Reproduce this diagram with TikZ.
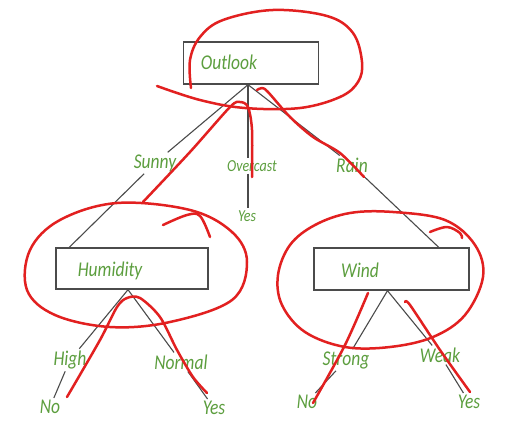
\documentclass[tikz,border=0pt]{standalone}
\usepackage{fontspec}
\setmainfont{Carlito}
\usepackage{xcolor}
\usepackage{graphicx}
\usepackage{tikz}
\usetikzlibrary{calc}
\definecolor{labelgreen}{RGB}{92,158,62}
\definecolor{edgegray}{RGB}{75,75,75}
\definecolor{penred}{RGB}{226,32,32}
\newcommand{\tallword}[1]{\scalebox{1}[1.2]{#1}}
\tikzset{
    attrbox/.style={draw=edgegray, line width=1.4pt, minimum width=135pt, minimum height=42pt, inner sep=0pt},
    attrtext/.style={text=labelgreen, font=\fontsize{17.5}{20}\selectfont\itshape, inner sep=1pt},
    branchlabel/.style={text=labelgreen, font=\fontsize{17.5}{20}\selectfont\itshape, inner sep=2pt},
    smalllabel/.style={text=labelgreen, font=\fontsize{14}{16}\selectfont\itshape, inner sep=2pt},
    edge/.style={draw=edgegray, line width=1.1pt},
    redpen/.style={draw=penred, line width=2.5pt, line cap=round, line join=round}
}

\begin{document}
\begin{tikzpicture}[x=1pt, y=-1pt]
    \useasboundingbox[fill=white] (0,0) rectangle (508,428);
    % Attribute boxes
    \node[attrbox] (outlook) at (251,63) {};
    \node[attrtext] (outlooktxt) at (229,62) {\tallword{Outlook}};
    \node[attrbox, minimum width=152pt, minimum height=41pt] (humidity) at (132,268.5) {};
    \node[attrtext] (humiditytxt) at (110,271) {\tallword{Humidity}};
    \node[attrbox, minimum width=155pt] (wind) at (391.5,269) {};
    \node[attrtext] (windtxt) at (360,270) {\tallword{Wind}};
    \coordinate (outlookapex) at ($(outlook.south)+(-3,0)$);
    \coordinate (humiditytop) at ($(humidity.north west)+(14,0)$);
    \coordinate (humidityapex) at ($(humidity.south)+(-4,0)$);
    \coordinate (windtop) at ($(wind.north east)+(-31,0)$);
    \coordinate (windapex) at ($(wind.south)+(-4,0)$);

    % Branch labels
    \node[branchlabel] (sunny) at (155,163) {\tallword{Sunny}};
    \node[smalllabel] (overcast) at (252,166) {\tallword{Overcast}};
    \node[smalllabel] (yesmid) at (247,216) {\tallword{Yes}};
    \node[branchlabel] (rain) at (352,165) {\tallword{Rain}};
    \node[branchlabel] (high) at (70,360) {\tallword{High}};
    \node[branchlabel] (normal) at (181,362) {\tallword{Normal}};
    \node[branchlabel] (nohum) at (50,407) {\tallword{No}};
    \node[branchlabel] (yeshum) at (214,408) {\tallword{Yes}};
    \node[branchlabel] (strong) at (346,360) {\tallword{Strong}};
    \node[branchlabel] (weak) at (440,355) {\tallword{Weak}};
    \node[branchlabel] (nowind) at (307,402) {\tallword{No}};
    \node[branchlabel] (yeswind) at (469,402) {\tallword{Yes}};

    % Branches
    \draw[edge] (outlookapex) -- (sunny) -- (humiditytop);
    \draw[edge] (outlookapex) -- (overcast.north -| outlookapex);
    \draw[edge] (overcast.south -| outlookapex) -- (yesmid.north -| outlookapex);
    \draw[edge] (outlookapex) -- (rain) -- (windtop);
    \draw[edge] (humidityapex) -- (high) -- (nohum);
    \draw[edge] (humidityapex) -- (normal) -- (yeshum);
    \draw[edge] (windapex) -- (strong) -- (nowind);
    \draw[edge] (windapex) -- (weak) -- (yeswind);

    % Red pen marks
    \draw[redpen] plot[smooth, tension=0.6] coordinates {(157,86) (200,100) (245,108) (300,108) (340,97) (358,82) (362,62) (353,33) (327,16) (273,10) (223,20) (200,37) (190,60) (191,88)};
    \draw[redpen] plot[smooth, tension=0.5] coordinates {(143,202) (190,152) (230,107) (240,102) (248,107) (252,130) (252,177)};
    \draw[redpen] plot[smooth, tension=0.5] coordinates {(257,90) (262,88) (268,92) (290,117) (313,137) (340,153) (364,177)};
    \draw[redpen] plot[smooth cycle, tension=0.6] coordinates {(117,203) (190,210) (232,232) (247,262) (232,300) (170,322) (110,327) (55,315) (27,290) (30,250) (60,220)};
    \draw[redpen] plot[smooth, tension=0.6] coordinates {(163,225) (187,215) (200,216) (210,237)};
    \draw[redpen] plot[smooth, tension=0.5] coordinates {(67,397) (100,340) (117,307) (127,298) (140,298) (160,317) (177,350) (193,377) (207,393)};
    \draw[redpen] plot[smooth cycle, tension=0.6] coordinates {(393,212) (445,220) (475,245) (483,277) (465,315) (433,337) (390,347) (345,347) (305,332) (282,305) (278,275) (290,245) (315,225) (350,213)};
    \draw[redpen] plot[smooth, tension=0.6] coordinates {(430,232) (447,227) (460,233) (462,238)};
    \draw[redpen] plot[smooth, tension=0.5] coordinates {(368,293) (345,345) (313,403)};
    \draw[redpen] plot[smooth, tension=0.5] coordinates {(405,302) (410,305) (440,350) (470,392)};
\end{tikzpicture}
\end{document}
